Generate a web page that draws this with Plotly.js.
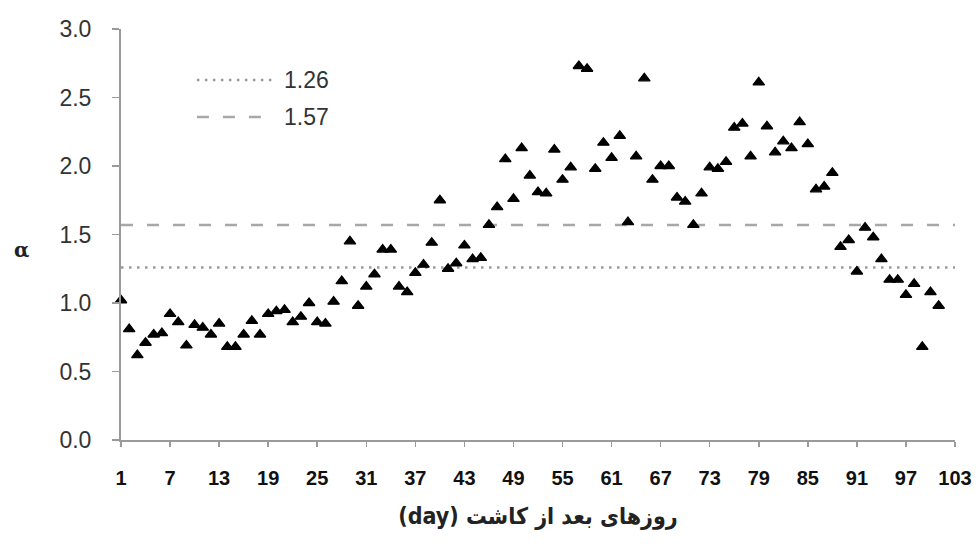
<!DOCTYPE html>
<html>
<head>
<meta charset="utf-8">
<script src="https://cdn.plot.ly/plotly-3.0.1.min.js"></script>
<style>html,body{margin:0;padding:0;background:#fff;}#chart{width:976px;height:544px;}</style>
</head>
<body>
<div id="chart"></div>
<script>
// Days after planting
const days = [
  1, 2, 3, 4, 5, 6, 7, 8, 9, 10,
  11, 12, 13, 14, 15, 16, 17, 18, 19, 20,
  21, 22, 23, 24, 25, 26, 27, 28, 29, 30,
  31, 32, 33, 34, 35, 36, 37, 38, 39, 40,
  41, 42, 43, 44, 45, 46, 47, 48, 49, 50,
  51, 52, 53, 54, 55, 56, 57, 58, 59, 60,
  61, 62, 63, 64, 65, 66, 67, 68, 69, 70,
  71, 72, 73, 74, 75, 76, 77, 78, 79, 80,
  81, 82, 83, 84, 85, 86, 87, 88, 89, 90,
  91, 92, 93, 94, 95, 96, 97, 98, 99, 100,
  101
];
// alpha values
const alpha = [
  1.02, 0.81, 0.62, 0.71, 0.77, 0.78, 0.92, 0.86, 0.69, 0.84,
  0.82, 0.77, 0.85, 0.68, 0.68, 0.77, 0.87, 0.77, 0.92, 0.94,
  0.95, 0.86, 0.90, 1.00, 0.86, 0.85, 1.01, 1.16, 1.45, 0.98,
  1.12, 1.21, 1.39, 1.39, 1.12, 1.08, 1.22, 1.28, 1.44, 1.75,
  1.25, 1.29, 1.42, 1.32, 1.33, 1.57, 1.70, 2.05, 1.76, 2.13,
  1.93, 1.81, 1.80, 2.12, 1.90, 1.99, 2.73, 2.71, 1.98, 2.17,
  2.06, 2.22, 1.59, 2.07, 2.64, 1.90, 2.00, 2.00, 1.77, 1.74,
  1.57, 1.80, 1.99, 1.98, 2.03, 2.28, 2.31, 2.07, 2.61, 2.29,
  2.10, 2.18, 2.13, 2.32, 2.16, 1.83, 1.85, 1.95, 1.41, 1.46,
  1.23, 1.55, 1.48, 1.32, 1.17, 1.17, 1.06, 1.14, 0.68, 1.08,
  0.98
];
// Reference levels
const refDotted = 1.26;
const refDashed = 1.57;
const refSpan = [1, 103.3];
// Axis ticks
const xTicks = [1, 7, 13, 19, 25, 31, 37, 43, 49, 55, 61, 67, 73, 79, 85, 91, 97, 103];
const yTicks = [0, 0.5, 1.0, 1.5, 2.0, 2.5, 3.0];
const xTitle = '(day) روزهای بعد از کاشت';
const yTitle = 'α';

const traces = [
  {
    x: refSpan, y: refSpan.map(() => refDotted), mode: 'lines', name: '1.26',
    line: {color: '#9a9a9a', width: 2.5, dash: '2.5px,5.5px'}, showlegend: false, hoverinfo: 'skip'
  },
  {
    x: refSpan, y: refSpan.map(() => refDashed), mode: 'lines', name: '1.57',
    line: {color: '#a8a8a8', width: 2.5, dash: '12px,14px'}, showlegend: false, hoverinfo: 'skip'
  },
  {
    x: days, y: alpha, mode: 'markers', name: 'α', cliponaxis: false,
    marker: {symbol: 'triangle-up', size: 10, color: '#000', line: {color: '#000', width: 1.3}},
    showlegend: false
  }
];

const layout = {
  width: 976, height: 544,
  margin: {l: 121, r: 21, t: 29, b: 104},
  paper_bgcolor: '#fff', plot_bgcolor: '#fff',
  showlegend: false,
  xaxis: {
    range: [1, 103], tickmode: 'array', tickvals: xTicks, ticktext: xTicks.map(String),
    showgrid: false, zeroline: false, showline: true, linecolor: '#9a9a9a', linewidth: 2,
    ticks: 'outside', ticklen: 5, tickwidth: 1.5, tickcolor: '#9a9a9a',
    ticklabelstandoff: 14,
    tickfont: {family: '"Liberation Sans Narrow", "Liberation Sans", Arial, sans-serif', size: 20, color: '#111', weight: 'bold'},
    title: {text: xTitle, standoff: 20, font: {family: '"DejaVu Sans Condensed", "DejaVu Sans", sans-serif', size: 23, color: '#222', weight: 'bold'}}
  },
  yaxis: {
    range: [0, 3], tickmode: 'array', tickvals: yTicks, tickformat: '.1f',
    showgrid: false, zeroline: false, showline: true, linecolor: '#9a9a9a', linewidth: 2,
    ticks: 'outside', ticklen: 7, tickwidth: 1.5, tickcolor: '#9a9a9a',
    ticklabelstandoff: 16,
    tickfont: {family: '"Liberation Sans", Arial, sans-serif', size: 23, color: '#333'}
  },
  shapes: [
    {type: 'line', xref: 'paper', yref: 'paper', x0: 0.091, x1: 0.181, y0: 0.876, y1: 0.876,
     line: {color: '#9a9a9a', width: 2.5, dash: '2.5px,5.5px'}},
    {type: 'line', xref: 'paper', yref: 'paper', x0: 0.091, x1: 0.175, y0: 0.786, y1: 0.786,
     line: {color: '#a8a8a8', width: 2.5, dash: '12px,14px'}}
  ],
  annotations: [
    {xref: 'paper', yref: 'paper', x: 0.193, y: 0.876, xanchor: 'left', yanchor: 'middle', showarrow: false,
     text: String(refDotted), font: {family: '"Liberation Sans", Arial, sans-serif', size: 23, color: '#333'}},
    {xref: 'paper', yref: 'paper', x: 0.193, y: 0.786, xanchor: 'left', yanchor: 'middle', showarrow: false,
     text: String(refDashed), font: {family: '"Liberation Sans", Arial, sans-serif', size: 23, color: '#333'}},
    {xref: 'paper', yref: 'paper', x: -0.119, y: 0.462, xanchor: 'center', yanchor: 'middle', showarrow: false,
     text: '<b>' + yTitle + '</b>', font: {family: '"DejaVu Serif", serif', size: 20, color: '#222'}}
  ]
};

Plotly.newPlot('chart', traces, layout, {staticPlot: true, displayModeBar: false});
</script>
</body>
</html>
